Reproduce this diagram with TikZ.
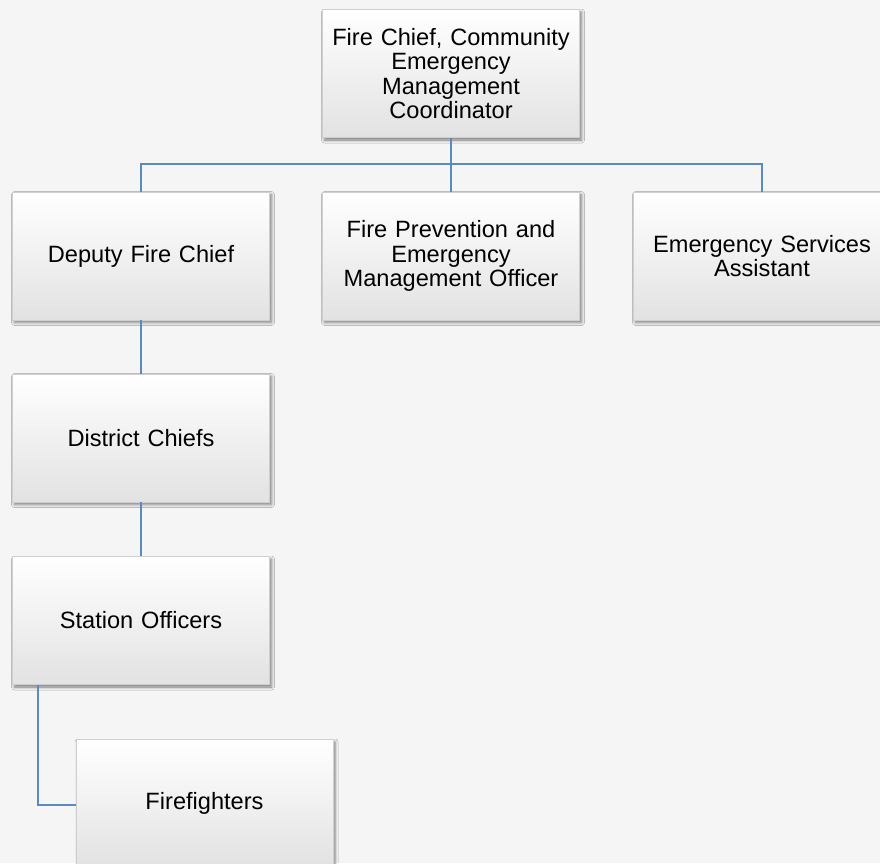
\documentclass[tikz,border=0pt]{standalone}
\usepackage{fontspec}
\setmainfont{Liberation Sans}
\usetikzlibrary{shadows.blur}
\definecolor{bg}{HTML}{F5F5F5}
\definecolor{link}{HTML}{5A8AC0}
\definecolor{boxedge}{HTML}{CFCFCF}
\definecolor{boxbottom}{HTML}{E2E2E2}
\begin{document}
\begin{tikzpicture}[x=1pt,y=-1pt,
  post/.style={draw=boxedge, line width=0.6pt,
    top color=white, middle color=white, bottom color=boxbottom,
    minimum width=257pt, minimum height=128pt, inner sep=2pt,
    text width=252pt, align=center,
    font=\fontsize{23.6}{24.5}\selectfont,
    blur shadow={shadow xshift=2pt, shadow yshift=-2.5pt,
      shadow blur radius=3pt, shadow opacity=50}},
  wire/.style={draw=link, line width=1.6pt}]
\fill[bg] (0,0) rectangle (880,863);
\useasboundingbox (0,0) rectangle (880,863);

\node[post] (top) at (451,73.5) {Fire Chief, Community\\Emergency\\Management\\Coordinator};
\node[post] (deputy) at (141,256) {Deputy Fire Chief};
\node[post] (prev) at (451,256) {Fire Prevention and\\Emergency\\Management Officer};
\node[post] (esa) at (762,256) {Emergency Services\\Assistant};
\node[post] (district) at (141,438) {District Chiefs};
\node[post] (station) at (141,620.5) {Station Officers};
\node[post] (ff) at (204.5,803.5) {Firefighters};

\begin{scope}[on background layer/.try]
\path (top.south) ++(0,26) coordinate (bus);
\draw[wire] (top.south) -- (prev.north);
\draw[wire] (bus) -| (deputy.north);
\draw[wire] (bus) -| (esa.north);
\draw[wire] (deputy.south) -- (district.north);
\draw[wire] (district.south) -- (station.north);
\draw[wire] ([xshift=-103pt]station.south) |- ([yshift=-1.5pt]ff.west);
\end{scope}
\end{tikzpicture}
\end{document}
